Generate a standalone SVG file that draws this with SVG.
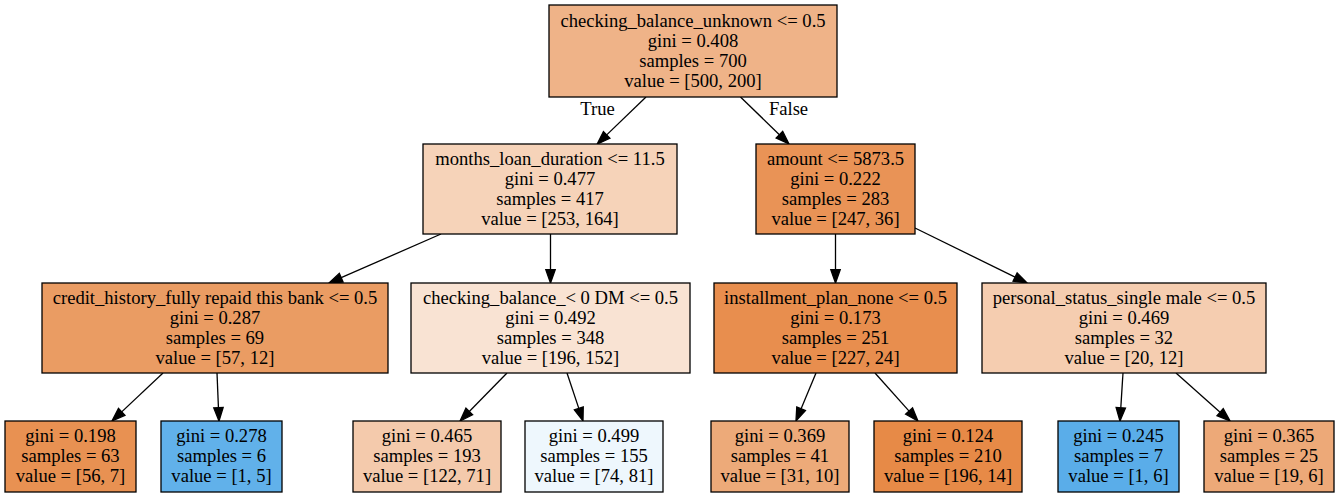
<svg xmlns="http://www.w3.org/2000/svg" width="1340" height="497" viewBox="0 0 1340 497">
<style>
  .box { stroke: #000; stroke-width: 1.3; }
  text { font-family: "Liberation Serif", "Times New Roman", serif; font-size: 18.6px; fill: #000; text-anchor: middle; }
  .edge { stroke: #000; stroke-width: 1.3; fill: none; marker-end: url(#arrow); }
</style>
<defs>
  <marker id="arrow" markerUnits="userSpaceOnUse" markerWidth="16" markerHeight="12" refX="0" refY="6" orient="auto" overflow="visible">
    <path d="M0,1.3 L13.3,6 L0,10.7 z" fill="#000" stroke="#000" stroke-width="1.3"/>
  </marker>
</defs>
<rect width="1340" height="497" fill="#fff"/>

<g id="connectors">
  <line class="edge" x1="646" y1="97" x2="606.7" y2="134.9"/>
  <line class="edge" x1="740.5" y1="97" x2="779.4" y2="134.7"/>
  <line class="edge" x1="441" y1="234" x2="341.2" y2="277.7"/>
  <line class="edge" x1="550.5" y1="234" x2="550.5" y2="269.7"/>
  <line class="edge" x1="835.5" y1="234" x2="835.5" y2="269.7"/>
  <line class="edge" x1="915" y1="228" x2="1015.1" y2="277.1"/>
  <line class="edge" x1="163" y1="373" x2="121.7" y2="411.9"/>
  <line class="edge" x1="217" y1="373" x2="218.45" y2="407.7"/>
  <line class="edge" x1="507" y1="373" x2="469.3" y2="411.5"/>
  <line class="edge" x1="567" y1="373" x2="578.8" y2="408.4"/>
  <line class="edge" x1="816" y1="373" x2="801.1" y2="408.7"/>
  <line class="edge" x1="875" y1="373" x2="909.1" y2="411.1"/>
  <line class="edge" x1="1123" y1="373" x2="1120.8" y2="407.7"/>
  <line class="edge" x1="1176" y1="373" x2="1220.1" y2="412.2"/>
  <text x="597.5" y="115">True</text>
  <text x="788.5" y="115">False</text>
</g>

<g id="node0">
  <rect class="box" x="549" y="5" width="288" height="92" fill="#efb388"/>
  <text x="693" y="26.5">checking_balance_unknown &lt;= 0.5</text>
  <text x="693" y="46.5">gini = 0.408</text>
  <text x="693" y="66.5">samples = 700</text>
  <text x="693" y="86.5">value = [500, 200]</text>
</g>

<g id="node1">
  <rect class="box" x="423" y="144" width="254" height="90" fill="#f6d3b9"/>
  <text x="550" y="164.5">months_loan_duration &lt;= 11.5</text>
  <text x="550" y="184.5">gini = 0.477</text>
  <text x="550" y="204.5">samples = 417</text>
  <text x="550" y="224.5">value = [253, 164]</text>
</g>

<g id="node8">
  <rect class="box" x="756" y="144" width="159" height="90" fill="#e99356"/>
  <text x="835.5" y="164.5">amount &lt;= 5873.5</text>
  <text x="835.5" y="184.5">gini = 0.222</text>
  <text x="835.5" y="204.5">samples = 283</text>
  <text x="835.5" y="224.5">value = [247, 36]</text>
</g>

<g id="node2">
  <rect class="box" x="42" y="283" width="346" height="90" fill="#ea9c63"/>
  <text x="215" y="303.5">credit_history_fully repaid this bank &lt;= 0.5</text>
  <text x="215" y="323.5">gini = 0.287</text>
  <text x="215" y="343.5">samples = 69</text>
  <text x="215" y="363.5">value = [57, 12]</text>
</g>

<g id="node5">
  <rect class="box" x="411" y="283" width="279" height="90" fill="#f9e3d3"/>
  <text x="550.5" y="303.5">checking_balance_&lt; 0 DM &lt;= 0.5</text>
  <text x="550.5" y="323.5">gini = 0.492</text>
  <text x="550.5" y="343.5">samples = 348</text>
  <text x="550.5" y="363.5">value = [196, 152]</text>
</g>

<g id="node9">
  <rect class="box" x="714" y="283" width="243" height="90" fill="#e88e4e"/>
  <text x="835.5" y="303.5">installment_plan_none &lt;= 0.5</text>
  <text x="835.5" y="323.5">gini = 0.173</text>
  <text x="835.5" y="343.5">samples = 251</text>
  <text x="835.5" y="363.5">value = [227, 24]</text>
</g>

<g id="node12">
  <rect class="box" x="982" y="283" width="284" height="90" fill="#f5cdb0"/>
  <text x="1124" y="303.5">personal_status_single male &lt;= 0.5</text>
  <text x="1124" y="323.5">gini = 0.469</text>
  <text x="1124" y="343.5">samples = 32</text>
  <text x="1124" y="363.5">value = [20, 12]</text>
</g>

<g id="node3">
  <rect class="box" x="5" y="421" width="131" height="71" fill="#e89152"/>
  <text x="70.5" y="442">gini = 0.198</text>
  <text x="70.5" y="462">samples = 63</text>
  <text x="70.5" y="482">value = [56, 7]</text>
</g>

<g id="node4">
  <rect class="box" x="161" y="421" width="121" height="71" fill="#61b1ea"/>
  <text x="221.5" y="442">gini = 0.278</text>
  <text x="221.5" y="462">samples = 6</text>
  <text x="221.5" y="482">value = [1, 5]</text>
</g>

<g id="node6">
  <rect class="box" x="353" y="421" width="148" height="71" fill="#f4caac"/>
  <text x="427" y="442">gini = 0.465</text>
  <text x="427" y="462">samples = 193</text>
  <text x="427" y="482">value = [122, 71]</text>
</g>

<g id="node7">
  <rect class="box" x="525" y="421" width="138" height="71" fill="#eef7fd"/>
  <text x="594" y="442">gini = 0.499</text>
  <text x="594" y="462">samples = 155</text>
  <text x="594" y="482">value = [74, 81]</text>
</g>

<g id="node10">
  <rect class="box" x="711" y="421" width="138" height="71" fill="#edaa79"/>
  <text x="780" y="442">gini = 0.369</text>
  <text x="780" y="462">samples = 41</text>
  <text x="780" y="482">value = [31, 10]</text>
</g>

<g id="node11">
  <rect class="box" x="874" y="421" width="148" height="71" fill="#e78a47"/>
  <text x="948" y="442">gini = 0.124</text>
  <text x="948" y="462">samples = 210</text>
  <text x="948" y="482">value = [196, 14]</text>
</g>

<g id="node13">
  <rect class="box" x="1058" y="421" width="121" height="71" fill="#5aade9"/>
  <text x="1118.5" y="442">gini = 0.245</text>
  <text x="1118.5" y="462">samples = 7</text>
  <text x="1118.5" y="482">value = [1, 6]</text>
</g>

<g id="node14">
  <rect class="box" x="1204" y="421" width="130" height="71" fill="#eda978"/>
  <text x="1269" y="442">gini = 0.365</text>
  <text x="1269" y="462">samples = 25</text>
  <text x="1269" y="482">value = [19, 6]</text>
</g>
</svg>
